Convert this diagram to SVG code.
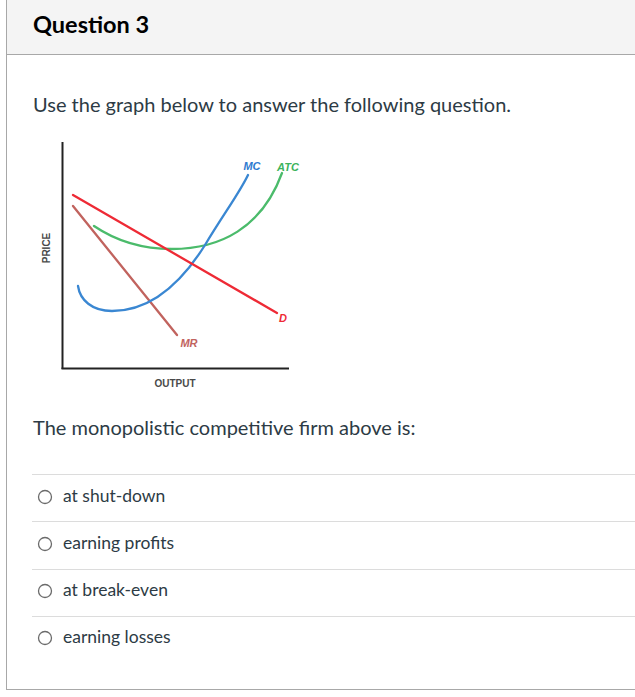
<svg xmlns="http://www.w3.org/2000/svg" width="635" height="697" viewBox="0 0 635 697">
<style>
.t{font-family:Lato,"Open Sans","Liberation Sans",sans-serif;fill:#2d3b45}
.lbl{font-family:"Liberation Sans",Arial,sans-serif;font-weight:bold;font-style:italic;font-size:11px}
.ax{font-family:"Liberation Sans",Arial,sans-serif;font-weight:bold;font-size:10px;fill:#4a4a4a}
.sep{stroke:#dcdcdc;stroke-width:1}
.radio{fill:#fff;stroke:#6b6b6b;stroke-width:1.3}
.opt{font-family:Lato,"Open Sans","Liberation Sans",sans-serif;font-size:17.5px;fill:#2d3b45}
.curve{fill:none;stroke-width:2.3;stroke-linecap:round}
</style>
<rect x="0" y="0" width="635" height="697" fill="#fff"/>
<g id="header">
<rect x="6" y="0" width="629" height="54" fill="#f4f4f4"/>
<line x1="6" y1="54.5" x2="635" y2="54.5" stroke="#a8a8a8" stroke-width="1"/>
<text x="33" y="32.5" font-family="Lato,'Open Sans','Liberation Sans',sans-serif" font-size="23.5" font-weight="bold" fill="#000">Question 3</text>
</g>
<line x1="6.5" y1="0" x2="6.5" y2="690" stroke="#a8a8a8" stroke-width="1"/>
<line x1="6" y1="689.5" x2="635" y2="689.5" stroke="#a8a8a8" stroke-width="1"/>
<text class="t" x="33" y="112" font-size="20">Use the graph below to answer the following question.</text>
<g id="graph">
<line x1="62.5" y1="142" x2="62.5" y2="369" stroke="#222" stroke-width="2"/>
<line x1="61.5" y1="368.5" x2="289" y2="368.5" stroke="#222" stroke-width="2"/>
<text class="ax" transform="translate(50,248) rotate(-90)" text-anchor="middle">PRICE</text>
<text class="ax" x="175" y="387" text-anchor="middle">OUTPUT</text>
</g>
<g id="connectors">
<path id="MR" class="curve" d="M73,206 L177,335" stroke="#c1635e"/>
<path id="ATC" class="curve" d="M94,226 C122,245 150,249 172,249 C220,249 262,228 282,173" stroke="#4bbb6b"/>
<path id="MC" class="curve" d="M78,286 C80,300 92,311 112,311 C150,311 180,285 205,245 C225,212 240,192 248,175" stroke="#3a87d2"/>
<path id="D" class="curve" d="M73,195 L277,313" stroke="#ee2a35"/>
</g>
<g id="labels">
<text class="lbl" x="252" y="170" text-anchor="middle" fill="#2f7ad0">MC</text>
<text class="lbl" x="288" y="171" text-anchor="middle" fill="#3cb35c">ATC</text>
<text class="lbl" x="283" y="322" text-anchor="middle" fill="#ee2a35">D</text>
<text class="lbl" x="189" y="347" text-anchor="middle" fill="#c1635e">MR</text>
</g>
<text class="t" x="33" y="435" font-size="20">The monopolistic competitive firm above is:</text>
<g id="options">
<line class="sep" x1="32" y1="474.5" x2="635" y2="474.5"/>
<line class="sep" x1="32" y1="521.5" x2="635" y2="521.5"/>
<line class="sep" x1="32" y1="569.5" x2="635" y2="569.5"/>
<line class="sep" x1="32" y1="616.5" x2="635" y2="616.5"/>
<g id="opt1"><circle class="radio" cx="45" cy="497" r="6.5"/><text class="opt" x="63" y="502">at shut-down</text></g>
<g id="opt2"><circle class="radio" cx="45" cy="544" r="6.5"/><text class="opt" x="63" y="549">earning profits</text></g>
<g id="opt3"><circle class="radio" cx="45" cy="591" r="6.5"/><text class="opt" x="63" y="596">at break-even</text></g>
<g id="opt4"><circle class="radio" cx="45" cy="638" r="6.5"/><text class="opt" x="63" y="643">earning losses</text></g>
</g>
</svg>
